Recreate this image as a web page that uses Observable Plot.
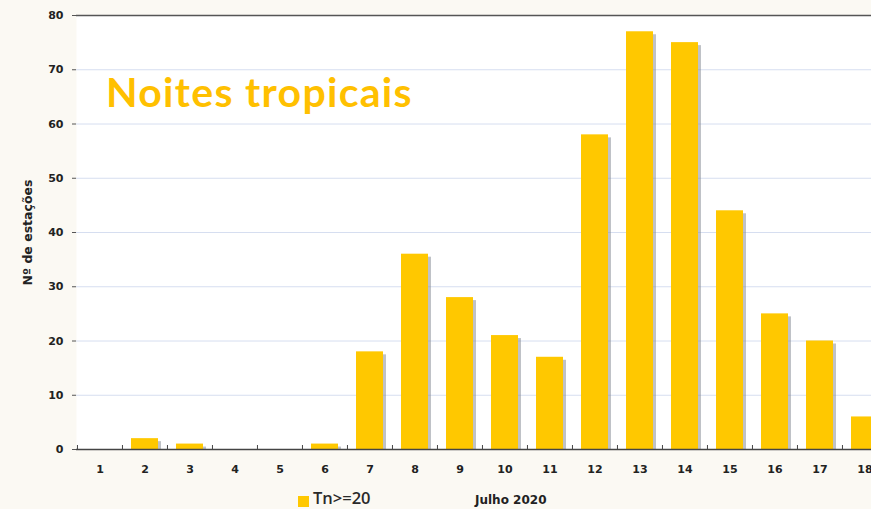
<!DOCTYPE html>
<html><head><meta charset="utf-8">
<script src="https://cdn.jsdelivr.net/npm/d3@7"></script>
<script src="https://cdn.jsdelivr.net/npm/@observablehq/plot@0.6"></script>
<style>
html,body{margin:0;padding:0;background:#fbf9f3;}
#wrap{position:relative;width:871px;height:509px;overflow:hidden;background:#fbf9f3;}
#chart svg{display:block;max-width:none;}
#title{position:absolute;left:106px;top:67px;font-family:Lato,sans-serif;font-weight:bold;font-size:41px;letter-spacing:1.3px;color:#ffc000;white-space:nowrap;}
#legend{position:relative;height:21px;}
#swatch{position:absolute;left:298px;top:8px;width:11px;height:11px;background:#ffc800;}
#series{position:absolute;left:313px;top:1px;line-height:17px;font-family:"Open Sans",sans-serif;font-weight:600;font-size:16.5px;color:#2a2a2a;white-space:nowrap;}
#xlabel{position:absolute;left:475px;top:5px;line-height:14px;font-family:"DejaVu Sans",sans-serif;font-weight:bold;font-size:12px;color:#222;white-space:nowrap;}
</style></head>
<body>
<div id="wrap">
  <div id="chart"></div>
  <div id="title"></div>
  <div id="legend"><div id="swatch"></div><div id="series"></div><div id="xlabel"></div></div>
</div>
<script>
const titleText = "Noites tropicais";
const yLabel = "Nº de estações";
const xLabel = "Julho 2020";
const seriesName = "Tn>=20";
const days = [1,2,3,4,5,6,7,8,9,10,11,12,13,14,15,16,17,18];
const stations = [0,2,1,0,0,1,18,36,28,21,17,58,77,75,44,25,20,6];
const yTicks = [0,10,20,30,40,50,60,70,80];

const table = days.map((d, i) => ({day: d, n: stations[i]}));
const x0 = 76.5, x1 = 888;
const half = (x1 - x0) / days.length / 2;

const plot = Plot.plot({
  width: 871,
  height: 488,
  marginLeft: 76,
  marginRight: 0,
  marginTop: 15,
  marginBottom: 39,
  style: {background: "transparent", maxWidth: "none"},
  x: {type: "band", domain: days, range: [x0, x1], paddingInner: 0.4, paddingOuter: 0.2},
  y: {domain: [0, 80]},
  marks: [
    Plot.frame({fill: "white", stroke: null}),
    Plot.gridY(yTicks.filter(t => t > 0 && t < 80), {stroke: "#d6def0", strokeOpacity: 1}),
    Plot.barY(table, {x: "day", y: "n", fill: "#7f8590", fillOpacity: 0.5, dx: 3, dy: 3, clip: true}),
    Plot.barY(table, {x: "day", y: "n", fill: "#ffc800"}),
    Plot.ruleY([80], {stroke: "#555", strokeWidth: 1.5}),
    Plot.ruleY([0], {stroke: "#444", strokeWidth: 1.5}),
    Plot.axisY({ticks: yTicks, tickSize: 4, tickPadding: 9, stroke: "#555", fill: "#222",
      fontFamily: "DejaVu Sans", fontWeight: "bold", fontSize: 11, label: null, line: true}),
    Plot.axisY({ticks: [], tickSize: 0, fill: "#222",
      fontFamily: "DejaVu Sans", fontWeight: "bold", fontSize: 12.5,
      label: yLabel, labelAnchor: "center", labelOffset: 53, labelArrow: "none"}),
    Plot.axisX({tickSize: 0, tickPadding: 16, fill: "#222",
      fontFamily: "DejaVu Sans", fontWeight: "bold", fontSize: 11, label: null}),
    Plot.axisX({tickSize: 4, insetBottom: 4, dx: -half, stroke: "#444",
      tickFormat: () => "", label: null})
  ]
});
document.getElementById("chart").appendChild(plot);
document.getElementById("title").textContent = titleText;
document.getElementById("series").textContent = seriesName;
document.getElementById("xlabel").textContent = xLabel;
</script>
</body></html>
